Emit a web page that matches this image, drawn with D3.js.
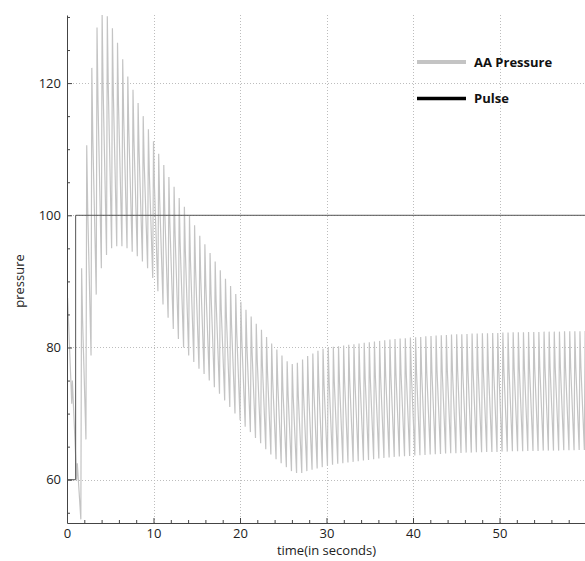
<!DOCTYPE html>
<html>
<head>
<meta charset="utf-8">
<script src="https://cdn.jsdelivr.net/npm/d3@7"></script>
<style>
    html, body { margin: 0; padding: 0; background: #fff; }
    svg { display: block; font-family: 'Open Sans', 'DejaVu Sans', sans-serif; }
</style>
</head>
<body>
<div id="chart"></div>
<script>
// Arterial pressure signal: a short run-in, then one row per heart beat
const preTime = [0.00, 0.07, 0.55, 0.62, 1.12, 1.19];
const preValue = [76.0, 87.5, 71.5, 75.0, 60.0, 62.5];

// beat onset (trough) times in seconds
const beatTime = [
    1.60,
    2.19, 2.78, 3.38, 3.97, 4.57, 5.16, 5.75, 6.35, 6.94, 7.54,
    8.13, 8.72, 9.32, 9.91, 10.51, 11.10, 11.69, 12.29, 12.88, 13.48,
    14.07, 14.66, 15.26, 15.85, 16.45, 17.04, 17.63, 18.23, 18.82, 19.42,
    20.01, 20.60, 21.20, 21.79, 22.39, 22.98, 23.57, 24.17, 24.76, 25.36,
    25.95, 26.54, 27.14, 27.73, 28.33, 28.92, 29.51, 30.11, 30.70, 31.30,
    31.89, 32.48, 33.08, 33.67, 34.27, 34.86, 35.45, 36.05, 36.64, 37.24,
    37.83, 38.42, 39.02, 39.61, 40.21, 40.80, 41.39, 41.99, 42.58, 43.18,
    43.77, 44.36, 44.96, 45.55, 46.15, 46.74, 47.33, 47.93, 48.52, 49.12,
    49.71, 50.30, 50.90, 51.49, 52.09, 52.68, 53.27, 53.87, 54.46, 55.06,
    55.65, 56.24, 56.84, 57.43, 58.03, 58.62, 59.21, 59.81
];

// pressure at the start of each beat (diastolic)
const beatLow = [
    54.0,
    66.1, 78.8, 88.0, 92.0, 94.0, 95.0, 95.3, 95.3, 95.0, 94.5,
    93.8, 93.0, 92.0, 90.5, 88.5, 86.5, 84.5, 82.8, 81.3, 80.0,
    78.8, 77.8, 76.8, 76.0, 75.0, 74.0, 73.0, 72.0, 71.0, 70.0,
    69.0, 68.0, 67.2, 66.3, 65.5, 64.6, 63.8, 63.1, 62.5, 61.9,
    61.3, 61.0, 61.0, 61.3, 61.5, 61.7, 61.9, 62.1, 62.25, 62.4,
    62.5, 62.6, 62.7, 62.8, 62.9, 63.0, 63.1, 63.2, 63.3, 63.35,
    63.45, 63.5, 63.55, 63.6, 63.65, 63.7, 63.75, 63.8, 63.85, 63.9,
    63.95, 64.0, 64.0, 64.05, 64.1, 64.1, 64.15, 64.15, 64.2, 64.2,
    64.2, 64.25, 64.25, 64.3, 64.3, 64.3, 64.35, 64.35, 64.35, 64.4,
    64.4, 64.4, 64.4, 64.45, 64.45, 64.45, 64.5, 64.5
];

// peak pressure of each beat (systolic)
const beatPeak = [
    92.0,
    110.6, 122.3, 128.4, 130.6, 130.1, 128.3, 126.1, 123.6, 121.0, 119.0,
    117.0, 115.0, 113.0, 111.2, 109.3, 107.6, 105.8, 104.3, 102.6, 101.3,
    99.9, 98.5, 96.9, 95.6, 94.3, 93.0, 91.7, 90.4, 89.3, 88.1,
    86.9, 85.7, 84.7, 83.6, 82.7, 81.6, 80.6, 79.7, 78.8, 77.9,
    77.5, 77.7, 78.2, 78.7, 79.1, 79.5, 79.8, 80.0, 80.1, 80.2,
    80.3, 80.4, 80.5, 80.6, 80.7, 80.8, 80.9, 81.0, 81.1, 81.2,
    81.3, 81.35, 81.4, 81.5, 81.55, 81.6, 81.7, 81.75, 81.8, 81.85,
    81.9, 81.95, 82.0, 82.0, 82.05, 82.1, 82.1, 82.15, 82.15, 82.2,
    82.2, 82.25, 82.25, 82.3, 82.3, 82.3, 82.35, 82.35, 82.35, 82.4,
    82.4, 82.4, 82.4, 82.45, 82.45, 82.45, 82.45, 82.5
];

// pressure at the end of the fast fall after each peak
const beatNotch = [
    84.2,
    101.1, 112.0, 117.5, 119.6, 119.6, 118.4, 116.9, 115.0, 113.1, 111.4,
    109.8, 108.1, 106.3, 104.4, 102.5, 100.7, 98.9, 97.4, 95.8, 94.6,
    93.3, 92.0, 90.6, 89.4, 88.2, 87.0, 85.8, 84.6, 83.5, 82.4,
    81.2, 80.2, 79.2, 78.2, 77.3, 76.3, 75.3, 74.5, 73.7, 72.9,
    72.6, 72.7, 73.1, 73.5, 73.9, 74.2, 74.5, 74.7, 74.8, 74.9,
    75.0, 75.1, 75.2, 75.3, 75.4, 75.5, 75.6, 75.7, 75.8, 75.9,
    76.0, 76.0, 76.1, 76.1, 76.2, 76.2, 76.3, 76.3, 76.4, 76.4,
    76.5, 76.5, 76.6, 76.6, 76.6, 76.7, 76.7, 76.7, 76.7, 76.8,
    76.8, 76.8, 76.8, 76.9, 76.9, 76.9, 76.9, 76.9, 77.0, 77.0,
    77.0, 77.0, 77.0, 77.0, 77.0, 77.0, 77.1, 77.1
];

// offsets from beat onset to its peak and to the notch, in seconds
const RISE = 0.09;
const NOTCH = 0.2;

// step input
const pulseTime = [0, 1, 1, 60];
const pulseValue = [60, 60, 100, 100];

const xTicks = [0, 10, 20, 30, 40, 50];
const xMinorTicks = [2, 4, 6, 8, 12, 14, 16, 18, 22, 24, 26, 28, 32, 34, 36, 38, 42, 44, 46, 48, 52, 54, 56, 58];
const yTicks = [60, 80, 100, 120];
const yMinorTicks = [55, 65, 70, 75, 85, 90, 95, 105, 110, 115, 125, 130];

const seriesNames = ['AA Pressure', 'Pulse'];
const seriesColors = ['#c4c4c4', '#000000'];

const OPTIONS = {
    width: 585,
    height: 561,
    margin: { top: 15, right: -1, bottom: 38, left: 67 },
    xDomain: [0, 60],
    yDomain: [53.45, 130.3]
};

function buildPressure() {
    let points = preTime.map((t, i) => [t, preValue[i]]);

    beatTime.forEach((t, i) => {
        points.push([t, beatLow[i]]);
        points.push([t + RISE, beatPeak[i]]);
        points.push([t + NOTCH, beatNotch[i]]);
    });

    return points;
}

function drawChart(query, options) {
    const { width, height, margin } = options;
    const chartWidth = width - margin.left - margin.right;
    const chartHeight = height - margin.top - margin.bottom;

    const svg = d3.select(query).append('svg').attr('width', width).attr('height', height);
    const chart = svg.append('g').attr('transform', `translate(${margin.left}, ${margin.top})`);

    const xScale = d3.scaleLinear().domain(options.xDomain).range([0, chartWidth]);
    const yScale = d3.scaleLinear().domain(options.yDomain).range([chartHeight, 0]);

    svg.append('defs').append('clipPath').attr('id', 'plot-clip')
        .append('rect').attr('width', chartWidth).attr('height', chartHeight);

    // dotted grid at the major ticks
    const grid = chart.append('g')
        .attr('stroke', '#bdbdbd')
        .attr('stroke-width', 1)
        .attr('stroke-dasharray', '1,2');

    grid.selectAll('.vgrid')
        .data(xTicks.filter((d) => d > 0))
        .enter()
        .append('line')
        .attr('x1', (d) => Math.round(xScale(d)) + 0.5)
        .attr('x2', (d) => Math.round(xScale(d)) + 0.5)
        .attr('y1', 0)
        .attr('y2', chartHeight);

    grid.selectAll('.hgrid')
        .data(yTicks)
        .enter()
        .append('line')
        .attr('x1', 0)
        .attr('x2', chartWidth)
        .attr('y1', (d) => Math.round(yScale(d)) + 0.5)
        .attr('y2', (d) => Math.round(yScale(d)) + 0.5);

    const line = d3.line().x((d) => xScale(d[0])).y((d) => yScale(d[1]));
    const plot = chart.append('g').attr('clip-path', 'url(#plot-clip)');

    plot.append('path')
        .datum(buildPressure())
        .attr('fill', 'none')
        .attr('stroke', seriesColors[0])
        .attr('stroke-width', 1.2)
        .attr('d', line);

    plot.append('path')
        .datum(pulseTime.map((t, i) => [t, pulseValue[i]]))
        .attr('fill', 'none')
        .attr('stroke', '#555')
        .attr('stroke-width', 1)
        .attr('d', line);

    // axes, ticks pointing into the plot
    const xAxis = chart.append('g').attr('transform', `translate(0, ${chartHeight})`)
        .call(d3.axisBottom(xScale).tickValues(xTicks).tickSize(-5).tickSizeOuter(0).tickPadding(6));
    chart.append('g').attr('transform', `translate(0, ${chartHeight})`)
        .call(d3.axisBottom(xScale).tickValues(xMinorTicks).tickSize(-3).tickFormat(''))
        .select('.domain').remove();

    const yAxis = chart.append('g')
        .call(d3.axisLeft(yScale).tickValues(yTicks).tickSize(-5).tickSizeOuter(0).tickPadding(6));
    chart.append('g')
        .call(d3.axisLeft(yScale).tickValues(yMinorTicks).tickSize(-3).tickFormat(''))
        .select('.domain').remove();

    chart.selectAll('.domain, .tick line').attr('stroke', '#444');
    [xAxis, yAxis].forEach((axis) => {
        axis.selectAll('text')
            .attr('fill', '#222')
            .style('font-size', '13px')
            .style('font-family', "'Open Sans', sans-serif");
    });

    // axis titles
    svg.append('text')
        .attr('x', margin.left + chartWidth / 2)
        .attr('y', 555)
        .attr('text-anchor', 'middle')
        .attr('fill', '#222')
        .style('font-size', '13px')
        .text('time(in seconds)');

    svg.append('text')
        .attr('transform', 'translate(24, 281) rotate(-90)')
        .attr('text-anchor', 'middle')
        .attr('fill', '#222')
        .style('font-size', '13px')
        .text('pressure');

    // legend
    const legend = svg.append('g').attr('transform', 'translate(417, 62)');
    const rows = legend.selectAll('g')
        .data(seriesNames)
        .enter()
        .append('g')
        .attr('transform', (d, i) => `translate(0, ${i * 36.5})`);

    rows.append('line')
        .attr('x1', 0)
        .attr('x2', 49)
        .attr('stroke', (d, i) => seriesColors[i])
        .attr('stroke-width', (d, i) => (i === 0 ? 4 : 3.5));

    rows.append('text')
        .attr('x', 57)
        .attr('y', 4.5)
        .attr('fill', '#111')
        .style('font-size', '13px')
        .style('font-weight', 700)
        .text((d) => d);
}

window.addEventListener('DOMContentLoaded', () => {
    drawChart('#chart', OPTIONS);
});
</script>
</body>
</html>
